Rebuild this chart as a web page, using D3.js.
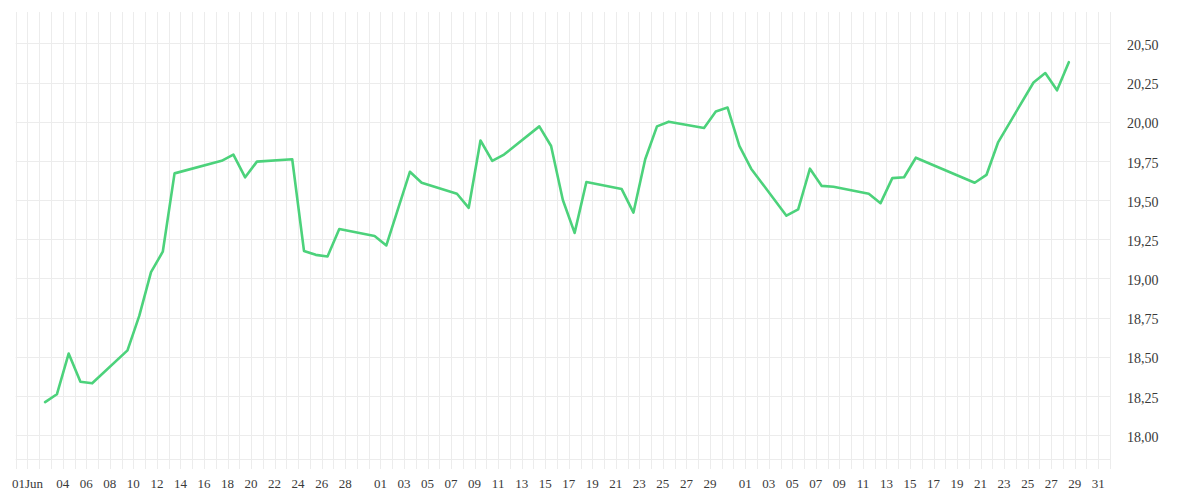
<!DOCTYPE html>
<html>
<head>
<meta charset="utf-8">
<script src="https://cdn.jsdelivr.net/npm/d3@7"></script>
<style>
  html, body { margin: 0; padding: 0; background: #ffffff; }
  svg { display: block; }
</style>
</head>
<body>
<svg id="chart" width="1200" height="500"></svg>
<script>
// ---- data ----
const dates = [
  "2025-06-02","2025-06-03","2025-06-04","2025-06-05","2025-06-06",
  "2025-06-09","2025-06-10","2025-06-11","2025-06-12","2025-06-13",
  "2025-06-17","2025-06-18","2025-06-19","2025-06-20",
  "2025-06-23","2025-06-24","2025-06-25","2025-06-26","2025-06-27",
  "2025-06-30","2025-07-01","2025-07-03","2025-07-04",
  "2025-07-07","2025-07-08","2025-07-09","2025-07-10","2025-07-11",
  "2025-07-14","2025-07-15","2025-07-16","2025-07-17","2025-07-18",
  "2025-07-21","2025-07-22","2025-07-23","2025-07-24","2025-07-25",
  "2025-07-28","2025-07-29","2025-07-30","2025-07-31","2025-08-01",
  "2025-08-04","2025-08-05","2025-08-06","2025-08-07","2025-08-08",
  "2025-08-11","2025-08-12","2025-08-13","2025-08-14","2025-08-15",
  "2025-08-20","2025-08-21","2025-08-22",
  "2025-08-25","2025-08-26","2025-08-27","2025-08-28"
];
const values = [
  18.21, 18.26, 18.52, 18.34, 18.33,
  18.54, 18.76, 19.04, 19.17, 19.67,
  19.75, 19.79, 19.645, 19.745,
  19.76, 19.175, 19.15, 19.14, 19.315,
  19.27, 19.21, 19.68, 19.61,
  19.54, 19.45, 19.88, 19.75, 19.79,
  19.97, 19.845, 19.50, 19.29, 19.615,
  19.57, 19.42, 19.76, 19.97, 20.00,
  19.96, 20.065, 20.09, 19.845, 19.70,
  19.40, 19.44, 19.70, 19.59, 19.585,
  19.54, 19.48, 19.64, 19.645, 19.77,
  19.61, 19.66, 19.87,
  20.25, 20.31, 20.20, 20.38
];
const xTickDates = [
  "2025-06-01","2025-06-04","2025-06-06","2025-06-08","2025-06-10","2025-06-12","2025-06-14",
  "2025-06-16","2025-06-18","2025-06-20","2025-06-22","2025-06-24","2025-06-26","2025-06-28",
  "2025-07-01","2025-07-03","2025-07-05","2025-07-07","2025-07-09","2025-07-11","2025-07-13",
  "2025-07-15","2025-07-17","2025-07-19","2025-07-21","2025-07-23","2025-07-25","2025-07-27","2025-07-29",
  "2025-08-01","2025-08-03","2025-08-05","2025-08-07","2025-08-09","2025-08-11","2025-08-13",
  "2025-08-15","2025-08-17","2025-08-19","2025-08-21","2025-08-23","2025-08-25","2025-08-27",
  "2025-08-29","2025-08-31"
];
const xTickLabels = [
  "01Jun","04","06","08","10","12","14","16","18","20","22","24","26","28",
  "01","03","05","07","09","11","13","15","17","19","21","23","25","27","29",
  "01","03","05","07","09","11","13","15","17","19","21","23","25","27","29","31"
];
const yTickValues = [18.00, 18.25, 18.50, 18.75, 19.00, 19.25, 19.50, 19.75, 20.00, 20.25, 20.50];
const yTickLabels = ["18,00","18,25","18,50","18,75","19,00","19,25","19,50","19,75","20,00","20,25","20,50"];
const xDomain = ["2025-05-31", "2025-09-01"];
const yDomain = [17.847, 20.70];

// ---- layout ----
const parse = d3.timeParse("%Y-%m-%d");
const plot = { left: 15.7, right: 1110, top: 12, bottom: 459 };
const gridColor = "#ececec";
const textColor = "#3a3a3a";
const lineColor = "#4cd27b";
const fontFamily = "'Liberation Serif', 'Times New Roman', serif";

const svg = d3.select("#chart");
const x = d3.scaleTime().domain(xDomain.map(parse)).range([plot.left, plot.right]);
const y = d3.scaleLinear().domain(yDomain).range([plot.bottom, plot.top]);

const data = dates.map((d, i) => ({ date: parse(d), value: values[i] }));

// vertical daily gridlines (extend below plot as ticks)
const days = d3.timeDay.range(x.domain()[0], d3.timeDay.offset(x.domain()[1], 1));
svg.append("g")
  .selectAll("line")
  .data(days)
  .join("line")
  .attr("x1", d => Math.round(x(d)) + 0.5)
  .attr("x2", d => Math.round(x(d)) + 0.5)
  .attr("y1", plot.top)
  .attr("y2", plot.bottom + 10)
  .attr("stroke", gridColor)
  .attr("stroke-width", 1);

// horizontal gridlines
svg.append("g")
  .selectAll("line")
  .data(yTickValues)
  .join("line")
  .attr("x1", plot.left)
  .attr("x2", plot.right)
  .attr("y1", d => Math.round(y(d)) + 0.5)
  .attr("y2", d => Math.round(y(d)) + 0.5)
  .attr("stroke", gridColor)
  .attr("stroke-width", 1);

// bottom border
svg.append("line")
  .attr("x1", plot.left).attr("x2", plot.right)
  .attr("y1", Math.round(plot.bottom) + 0.5).attr("y2", Math.round(plot.bottom) + 0.5)
  .attr("stroke", gridColor).attr("stroke-width", 1);

// y labels (right)
svg.append("g")
  .selectAll("text")
  .data(yTickValues)
  .join("text")
  .attr("x", plot.right + 17)
  .attr("y", d => y(d) + 6.7)
  .attr("font-family", fontFamily)
  .attr("font-size", 14)
  .attr("fill", textColor)
  .text((d, i) => yTickLabels[i]);

// x labels
svg.append("g")
  .selectAll("text")
  .data(xTickDates)
  .join("text")
  .attr("x", d => x(parse(d)))
  .attr("y", 488)
  .attr("text-anchor", "middle")
  .attr("font-family", fontFamily)
  .attr("font-size", 13)
  .attr("fill", textColor)
  .text((d, i) => xTickLabels[i]);

// line (points placed at mid-day)
const line = d3.line()
  .x(d => x(d3.timeHour.offset(d.date, 12)))
  .y(d => y(d.value));

svg.append("path")
  .datum(data)
  .attr("d", line)
  .attr("fill", "none")
  .attr("stroke", lineColor)
  .attr("stroke-width", 2.6)
  .attr("stroke-linejoin", "round")
  .attr("stroke-linecap", "round");
</script>
</body>
</html>
